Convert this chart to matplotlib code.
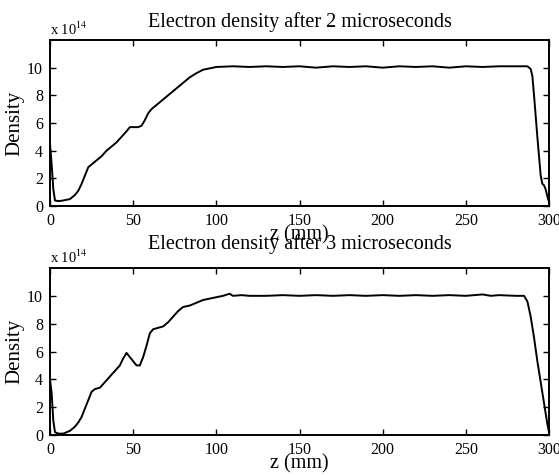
import matplotlib.pyplot as plt

plt.rcParams['font.family'] = ['Liberation Serif', 'DejaVu Serif']
plt.rcParams['mathtext.fontset'] = 'stix'

# electron density (x 10^14) vs z (mm)
z_2us = [0, 1, 2, 3, 5, 8, 12, 15, 17, 19, 21, 23, 25, 28, 31, 34, 37, 40, 43,
         46, 48, 50, 53, 55, 57, 59, 61, 64, 67, 70, 73, 76, 80, 84, 88, 92, 96,
         100, 110, 120, 130, 140, 150, 160, 170, 180, 190, 200, 210, 220, 230,
         240, 250, 260, 270, 280, 287, 289, 290, 291, 292, 293, 294, 295, 296,
         297, 298, 299, 300]
d_2us = [4.5, 3.0, 1.2, 0.4, 0.35, 0.4, 0.5, 0.8, 1.1, 1.6, 2.2, 2.8, 3.0,
         3.3, 3.6, 4.0, 4.3, 4.6, 5.0, 5.4, 5.7, 5.7, 5.7, 5.8, 6.2, 6.7, 7.0,
         7.3, 7.6, 7.9, 8.2, 8.5, 8.9, 9.3, 9.6, 9.85, 9.95, 10.05, 10.1,
         10.05, 10.1, 10.05, 10.1, 10.0, 10.1, 10.05, 10.1, 10.0, 10.1, 10.05,
         10.1, 10.0, 10.1, 10.05, 10.1, 10.1, 10.1, 9.9, 9.4, 8.0, 6.5, 5.0,
         3.6, 2.2, 1.6, 1.5, 1.2, 0.7, 0.3]

z_3us = [0, 1, 2, 3, 5, 8, 12, 15, 17, 19, 21, 23, 25, 27, 30, 33, 36, 39, 42,
         44, 46, 48, 50, 52, 54, 56, 58, 60, 62, 65, 68, 71, 74, 77, 80, 84, 88,
         92, 96, 100, 104, 108, 110, 115, 120, 130, 140, 150, 160, 170, 180,
         190, 200, 210, 220, 230, 240, 250, 260, 265, 270, 280, 285, 287, 289,
         291, 293, 295, 297, 299, 300]
d_3us = [4.0, 3.0, 1.0, 0.2, 0.1, 0.1, 0.3, 0.6, 0.9, 1.3, 1.9, 2.5, 3.1,
         3.3, 3.4, 3.8, 4.2, 4.6, 5.0, 5.5, 5.9, 5.6, 5.3, 5.0, 5.0, 5.6, 6.4,
         7.3, 7.6, 7.7, 7.8, 8.1, 8.5, 8.9, 9.2, 9.3, 9.5, 9.7, 9.8, 9.9, 10.0,
         10.15, 10.0, 10.05, 10.0, 10.0, 10.05, 10.0, 10.05, 10.0, 10.05, 10.0,
         10.05, 10.0, 10.05, 10.0, 10.05, 10.0, 10.1, 10.0, 10.05, 10.0, 10.0,
         9.6, 8.5, 7.0, 5.3, 3.8, 2.3, 0.8, 0.2]

titles = ['Electron density after 2 microseconds',
          'Electron density after 3 microseconds']
x_ticks = [0, 50, 100, 150, 200, 250, 300]
y_ticks = [0, 2, 4, 6, 8, 10]

fig = plt.figure(figsize=(5.59, 4.75), dpi=100)
ax1 = fig.add_axes([50 / 559, 1 - 206 / 475, 499 / 559, 166 / 475])
ax2 = fig.add_axes([50 / 559, 1 - 435 / 475, 499 / 559, 167 / 475])

for ax, z, d, title, tpad in [(ax1, z_2us, d_2us, titles[0], 9),
                              (ax2, z_3us, d_3us, titles[1], 14)]:
    ax.plot(z, d, color='black', linewidth=1.4)
    ax.set_xlim(0, 300)
    ax.set_ylim(0, 12)
    ax.set_xticks(x_ticks)
    ax.set_yticks(y_ticks)
    ax.tick_params(direction='in', top=True, right=True, labelsize=11.5,
                   length=4, width=1, pad=5)
    for s in ax.spines.values():
        s.set_linewidth(1.4)
    ax.set_title(title, fontsize=14.5, pad=tpad)
    ax.set_xlabel('z (mm)', fontsize=14.5, labelpad=-3)
    ax.set_ylabel('Density', fontsize=15, labelpad=2)
    ax.text(0, 1.01, r'x 10$^{14}$', transform=ax.transAxes, fontsize=10.5,
            ha='left', va='bottom')

fig.savefig('out.png', dpi=100)
